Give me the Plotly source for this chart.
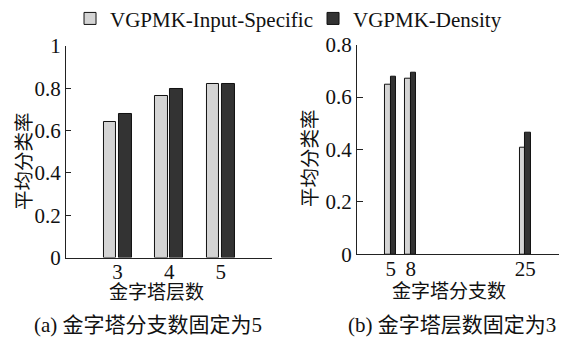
import plotly.graph_objects as go

# Panel (a): pyramid levels, branching fixed to 5
levels = [3, 4, 5]
a_input_specific = [0.641, 0.762, 0.820]
a_density = [0.678, 0.795, 0.820]

# Panel (b): branching factor, levels fixed to 3
branches = [5, 8, 25]
b_input_specific = [0.646, 0.672, 0.405]
b_density = [0.678, 0.693, 0.466]

series_names = ["VGPMK-Input-Specific", "VGPMK-Density"]
light = "#d4d4d4"
dark = "#333333"
FONT = "Times New Roman, Liberation Serif, Noto Sans CJK SC, serif"

fig = go.Figure()

# left panel bars
fig.add_trace(go.Bar(x=levels, y=a_input_specific, name=series_names[0], width=0.245, offset=-0.27,
                     marker=dict(color=light, line=dict(color="#111", width=1)),
                     xaxis="x", yaxis="y", legendgroup="a"))
fig.add_trace(go.Bar(x=levels, y=a_density, name=series_names[1], width=0.245, offset=0.025,
                     marker=dict(color=dark, line=dict(color="#111", width=1)),
                     xaxis="x", yaxis="y", legendgroup="b"))
# right panel bars
fig.add_trace(go.Bar(x=branches, y=b_input_specific, name=series_names[0], width=0.82, offset=-0.82,
                     marker=dict(color=light, line=dict(color="#111", width=1)),
                     xaxis="x2", yaxis="y2", showlegend=False, legendgroup="a"))
fig.add_trace(go.Bar(x=branches, y=b_density, name=series_names[1], width=0.82, offset=0.0,
                     marker=dict(color=dark, line=dict(color="#111", width=1)),
                     xaxis="x2", yaxis="y2", showlegend=False, legendgroup="b"))

axis_common = dict(showline=True, linecolor="#222", linewidth=1.2, showgrid=False, zeroline=False,
                   automargin=False, tickfont=dict(family=FONT, size=21, color="#111"))

fig.update_layout(
    width=562, height=345,
    margin=dict(l=0, r=0, t=0, b=0, autoexpand=False),
    paper_bgcolor="white", plot_bgcolor="white",
    font=dict(family=FONT, color="#111"),
    showlegend=True,
    legend=dict(orientation="h", x=0.1246, y=1.005, xanchor="left", yanchor="top",
                font=dict(family=FONT, size=21, color="#111"), itemwidth=30,
                entrywidth=198, entrywidthmode="pixels",
                bgcolor="rgba(0,0,0,0)", traceorder="normal"),
    xaxis=dict(domain=[0.1174, 0.4845], range=[2, 6], tickvals=levels, ticks="",
               ticklabelstandoff=-5, anchor="y", **axis_common),
    yaxis=dict(domain=[0.2536, 0.8667], range=[0, 1], tickvals=[0, 0.2, 0.4, 0.6, 0.8, 1],
               ticktext=["0", "0.2", "0.4", "0.6", "0.8", "1"],
               ticks="inside", ticklen=5, tickcolor="#222", anchor="x", **axis_common),
    xaxis2=dict(domain=[0.6352, 0.9947], range=[0, 30], tickvals=branches, ticks="",
                ticklabelstandoff=-5, anchor="y2", **axis_common),
    yaxis2=dict(domain=[0.2629, 0.8704], range=[0, 0.8], tickvals=[0, 0.2, 0.4, 0.6, 0.8],
                ticktext=["0", "0.2", "0.4", "0.6", "0.8"],
                ticks="inside", ticklen=6, tickcolor="#222", anchor="x2", **axis_common),
    bargap=0,
)

def ann(text, x, y, size=19, angle=0, xanchor="center"):
    fig.add_annotation(text=text, x=x / 562, y=1 - y / 345, xref="paper", yref="paper",
                       showarrow=False, textangle=angle, xanchor=xanchor, yanchor="middle",
                       font=dict(family=FONT, size=size, color="#111"))

ann("平均分类率", 24, 161, size=19.5, angle=-90)
ann("平均分类率", 311, 158, size=19.5, angle=-90)
ann("金字塔层数", 156, 292)
ann("金字塔分支数", 449, 291)
ann("(a) 金字塔分支数固定为5", 148, 325, size=21)
ann("(b) 金字塔层数固定为3", 346, 325, size=21, xanchor="left")

fig.write_html("out.html")
